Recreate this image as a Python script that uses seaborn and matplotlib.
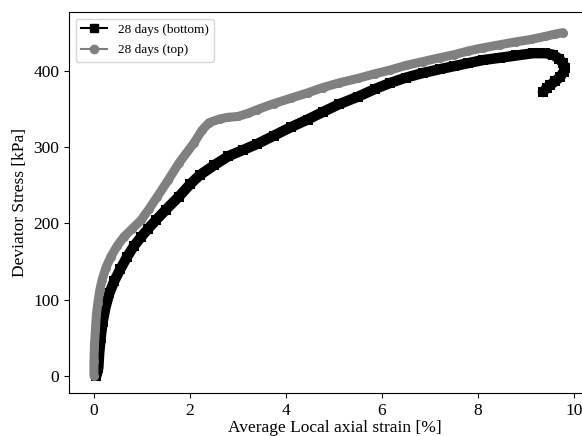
import matplotlib
matplotlib.use("Agg")
import matplotlib.pyplot as plt
from matplotlib.lines import Line2D
import seaborn as sns
import pandas as pd

# 28 days (bottom) – black squares
bottom_strain = [0.05, 0.09, 0.11, 0.14, 0.18, 0.24, 0.32, 0.42, 0.55, 0.69, 0.83, 0.98,
                 1.13, 1.29, 1.5, 1.77, 2.0, 2.2, 2.5, 2.8, 3.1, 3.4, 3.75, 4.1, 4.45,
                 4.77, 5.1, 5.5, 5.85, 6.17, 6.5, 6.85, 7.2, 7.5, 7.8, 8.1, 8.46, 8.8,
                 9.15, 9.4, 9.56, 9.68, 9.77, 9.81, 9.78, 9.71, 9.6, 9.5, 9.44, 9.35]
bottom_stress = [0, 10, 30, 50, 70, 90, 108, 124, 140, 156, 170, 182,
                 193, 204, 218, 235, 251, 263, 276, 288, 296, 304, 315, 326, 336,
                 346, 356, 366, 376, 384, 391, 397, 402, 406, 410, 414, 417, 420,
                 423, 423, 421, 416, 410, 404, 398, 392, 386, 381, 378, 372]

# 28 days (top) – grey circles
top_strain = [0.0, 0.0, 0.01, 0.03, 0.05, 0.08, 0.12, 0.17, 0.25, 0.35, 0.48, 0.62,
              0.8, 0.98, 1.15, 1.32, 1.55, 1.77, 2.08, 2.25, 2.4, 2.63, 2.8, 3.0,
              3.2, 3.4, 3.75, 4.1, 4.45, 4.77, 5.1, 5.5, 5.85, 6.17, 6.5, 6.85, 7.2,
              7.5, 7.8, 8.1, 8.45, 8.8, 9.1, 9.4, 9.6, 9.77]
top_stress = [0, 20, 40, 60, 80, 95, 112, 126, 142, 156, 170, 182,
              193, 204, 219, 235, 257, 279, 305, 322, 332, 337, 339, 340,
              344, 349, 357, 364, 371, 378, 384, 390, 396, 401, 407, 412, 417,
              421, 426, 430, 434, 438, 441, 445, 448, 450]

labels = ["28 days (bottom)", "28 days (top)"]
colors = ["black", "#808080"]
markers = ["s", "o"]
widths = [7.5, 6.5]

plt.rcParams["font.family"] = ["Liberation Serif", "DejaVu Serif"]

fig = plt.figure(figsize=(5.82, 4.36), dpi=100)
ax = fig.add_axes([69 / 582, 1 - 393 / 436, (600 - 69) / 582, (393 - 12) / 436])

dfs = [pd.DataFrame({"x": bottom_strain, "y": bottom_stress}),
       pd.DataFrame({"x": top_strain, "y": top_stress})]

for df, c, m, w in zip(dfs, colors, markers, widths):
    sns.lineplot(data=df, x="x", y="y", sort=False, estimator=None, ax=ax,
                 color=c, linewidth=w, marker=m, markersize=w,
                 markeredgewidth=0, solid_capstyle="round", solid_joinstyle="round")

ax.set_xlim(-0.52, 10.54)
ax.set_ylim(-22.5, 477)
ax.set_xticks([0, 2, 4, 6, 8, 10])
ax.set_yticks([0, 100, 200, 300, 400])
ax.tick_params(labelsize=12.5)
ax.spines["right"].set_visible(False)
ax.set_xlabel("Average Local axial strain [%]", fontsize=12.5, labelpad=1)
ax.set_ylabel("Deviator Stress [kPa]", fontsize=12.5)

handles = [Line2D([0], [0], color=c, marker=m, markersize=6, linewidth=1.5)
           for c, m in zip(colors, markers)]
ax.legend(handles, labels, loc="upper left", fontsize=9.5, labelspacing=0.6)

fig.savefig("out.png", dpi=100)
